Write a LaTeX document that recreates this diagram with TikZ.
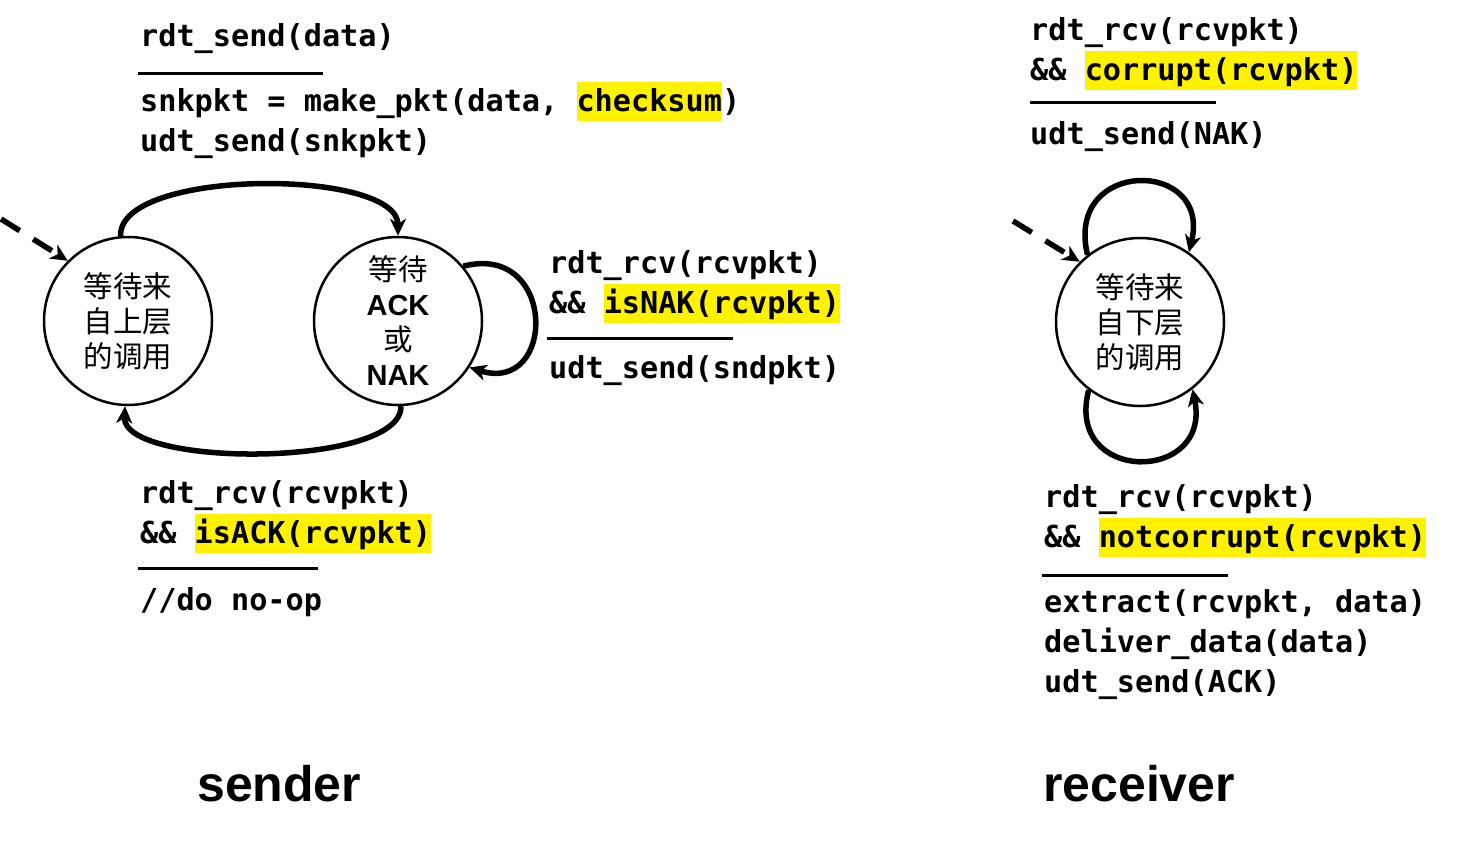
\documentclass[tikz,border=0pt]{standalone}
\usepackage{fontspec}
\setmainfont{Liberation Sans}
\newfontfamily\cjk{Noto Sans CJK SC}
\newfontfamily\codefont{DejaVu Sans Mono}
\usetikzlibrary{arrows.meta}
\newcommand\hlt[1]{{\setlength{\fboxsep}{0pt}\colorbox{yellow}{\rule[-10pt]{0pt}{39pt}#1}}}
\tikzset{
 code/.style={anchor=base west, inner sep=0pt, font=\codefont\bfseries\fontsize{30.2}{40}\selectfont},
 state/.style={circle, draw, line width=2.5pt, minimum size=168pt, inner sep=0pt, align=center, font=\cjk\fontsize{29.5}{35}\selectfont},
 trans/.style={line width=5.5pt, -{Stealth[length=17pt,width=16pt,inset=5pt]}},
 rulebar/.style={line width=3pt},
 init/.style={trans, dash pattern=on 22pt off 16pt},
 title/.style={anchor=base west, inner sep=0pt, font=\bfseries\fontsize{50}{60}\selectfont},
 ack/.style={font=\bfseries\fontsize{29}{35}\selectfont}
}
\begin{document}
\begin{tikzpicture}[x=1pt,y=-1pt]
\useasboundingbox (0,0) rectangle (1469,841);
% states
\node[state] (c1) at (128,321) {等待来\\自上层\\的调用};
\node[state] (c2) at (398,321) {等待\\{\normalfont\bfseries\fontsize{29}{35}\selectfont ACK}\\或\\{\normalfont\bfseries\fontsize{29}{35}\selectfont NAK}};
\node[state] (c3) at (1140,322) {等待来\\自下层\\的调用};
% initial arrows
\coordinate (s0) at (1,219);
\coordinate (r0) at (1013,221);
\draw[init] (s0) -- (c1.135);
\draw[init] (r0) -- (c3.135);
% sender transitions
\draw[trans] (c1.95) .. controls (118,168) and (398,168) .. (c2.90);
\draw[trans] (c2.40) .. controls (557,242) and (557,395) .. (c2.-33);
\draw[trans] (c2.-88) .. controls (402,468) and (122,468) .. (c1.-92);
% receiver loops
\draw[trans] (c3.128) .. controls (1064,158) and (1212,158) .. (c3.55);
\draw[trans] (c3.-127) .. controls (1064,484) and (1212,484) .. (c3.-52);
% sender top label
\node[code] (t1) at (140,46) {rdt\_send(data)};
\draw[rulebar] (138,73) -- (323,73);
\node[code] (t2) at (140,111) {snkpkt = make\_pkt(data, \hlt{checksum})};
\node[code] (t3) at (140,151) {udt\_send(snkpkt)};
% sender right label
\node[code] (n1) at (549,273) {rdt\_rcv(rcvpkt)};
\node[code] (n2) at (549,313) {\&\& \hlt{isNAK(rcvpkt)}};
\draw[rulebar] (547,338) -- (733,338);
\node[code] (n3) at (549,378) {udt\_send(sndpkt)};
% sender bottom label
\node[code] (a1) at (140,503) {rdt\_rcv(rcvpkt)};
\node[code] (a2) at (140,543) {\&\& \hlt{isACK(rcvpkt)}};
\draw[rulebar] (138,568) -- (318,568);
\node[code] (a3) at (140,610) {//do no-op};
% receiver top label
\node[code] (k1) at (1030,40) {rdt\_rcv(rcvpkt)};
\node[code] (k2) at (1030,80) {\&\& \hlt{corrupt(rcvpkt)}};
\draw[rulebar] (1030,102) -- (1216,102);
\node[code] (k3) at (1030,144) {udt\_send(NAK)};
% receiver bottom label
\node[code] (g1) at (1044,507) {rdt\_rcv(rcvpkt)};
\node[code] (g2) at (1044,547) {\&\& \hlt{notcorrupt(rcvpkt)}};
\draw[rulebar] (1042,575) -- (1228,575);
\node[code] (g3) at (1044,612) {extract(rcvpkt, data)};
\node[code] (g4) at (1044,652) {deliver\_data(data)};
\node[code] (g5) at (1044,692) {udt\_send(ACK)};
% titles
\node[title] (snd) at (197,801) {sender};
\node[title] (rcv) at (1043,801) {receiver};
\end{tikzpicture}
\end{document}
